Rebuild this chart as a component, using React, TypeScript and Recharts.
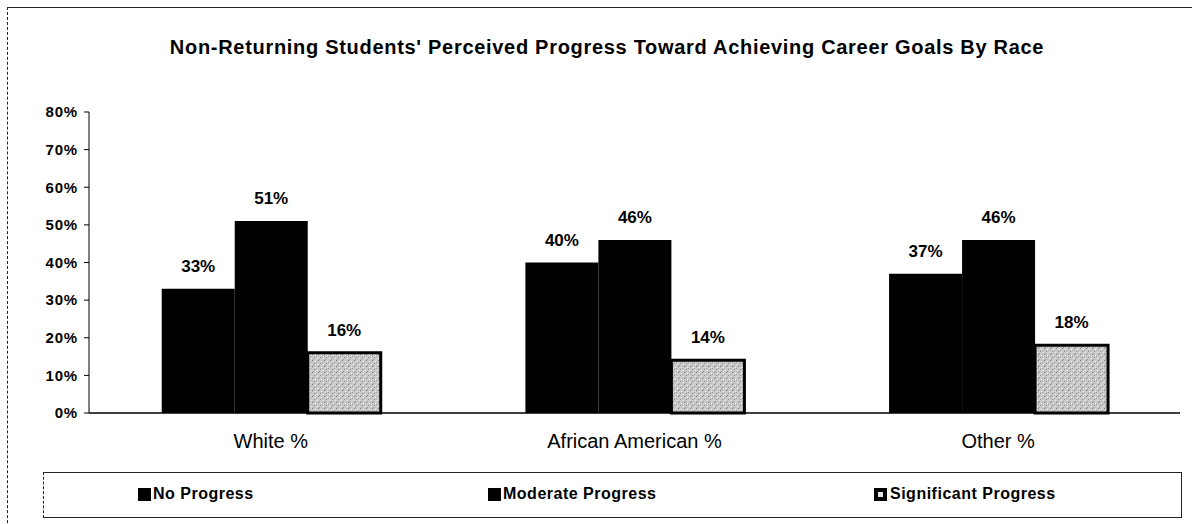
import React from "react";
import { BarChart, Bar, XAxis, YAxis, LabelList } from "recharts";

// values
const categories = ["White %", "African American %", "Other %"];
const noProgress = [33, 40, 37];
const moderateProgress = [51, 46, 46];
const significantProgress = [16, 14, 18];
const yTicks = [0, 10, 20, 30, 40, 50, 60, 70, 80];

const seriesNames = ["No Progress", "Moderate Progress", "Significant Progress"];

const data = categories.map((name, i) => ({
  name,
  none: noProgress[i],
  moderate: moderateProgress[i],
  significant: significantProgress[i],
}));

const FONT = "'Liberation Sans', Arial, sans-serif";
const pct = (v: any) => `${v}%`;

const labelStyle = { fontFamily: FONT, fontSize: 17, fontWeight: 700, fill: "#000" };

// legend item offsets inside the box
const legendLeft = [94, 444, 830];

function LegendMarker({ index }: { index: number }) {
  if (index < 2) {
    return <span style={{ display: "inline-block", width: 13, height: 13, background: "#000", marginRight: 2 }} />;
  }
  return (
    <span
      style={{
        display: "inline-block",
        width: 5,
        height: 5,
        border: "4px solid #000",
        background: "#e6e6e6",
        marginRight: 3,
      }}
    />
  );
}

export default function App() {
  return (
    <div style={{ position: "absolute", left: 0, top: 0, width: 1192, height: 524, overflow: "hidden", background: "#fff" }}>
      {/* outer frame of the scanned page */}
      <div
        style={{
          position: "absolute",
          left: 7,
          top: 7,
          width: 1200,
          height: 540,
          borderTop: "1px solid #222",
          borderLeft: "1px dashed #222",
        }}
      />
      <div
        style={{
          position: "absolute",
          left: 0,
          top: 36,
          width: 1214,
          textAlign: "center",
          fontFamily: FONT,
          fontWeight: 700,
          fontSize: 20,
          letterSpacing: 0.7,
          color: "#000",
        }}
      >
        Non-Returning Students' Perceived Progress Toward Achieving Career Goals By Race
      </div>

      <div style={{ position: "absolute", left: 0, top: 0 }}>
        <BarChart
          width={1192}
          height={524}
          data={data}
          margin={{ top: 112, right: 12, bottom: 0, left: 0 }}
          barCategoryGap="20%"
          barGap={0}
        >
          <defs>
            <pattern id="stipple" width="6" height="6" patternUnits="userSpaceOnUse">
              <rect width="6" height="6" fill="#c9c9c9" />
              <rect x="0" y="0" width="1" height="1" fill="#777" />
              <rect x="3" y="1" width="1" height="1" fill="#f2f2f2" />
              <rect x="2" y="3" width="1" height="1" fill="#888" />
              <rect x="5" y="4" width="1" height="1" fill="#eee" />
              <rect x="1" y="5" width="1" height="1" fill="#999" />
              <rect x="4" y="2" width="1" height="1" fill="#a0a0a0" />
            </pattern>
          </defs>
          <XAxis
            dataKey="name"
            height={111}
            tickLine={false}
            tickSize={0}
            tickMargin={21}
            axisLine={{ stroke: "#000", strokeWidth: 1.5 }}
            tick={{ fontFamily: FONT, fontSize: 20, fill: "#000" }}
          />
          <YAxis
            width={89}
            domain={[0, 80]}
            ticks={yTicks}
            interval={0}
            tickFormatter={pct}
            tickSize={5}
            tickMargin={6}
            axisLine={{ stroke: "#000", strokeWidth: 1 }}
            tickLine={{ stroke: "#000" }}
            tick={{ fontFamily: FONT, fontSize: 15, fontWeight: 700, fill: "#000", letterSpacing: 0.8 }}
          />
          <Bar dataKey="none" name={seriesNames[0]} fill="#000" isAnimationActive={false}>
            <LabelList dataKey="none" position="top" offset={17} formatter={pct} style={labelStyle} />
          </Bar>
          <Bar dataKey="moderate" name={seriesNames[1]} fill="#000" isAnimationActive={false}>
            <LabelList dataKey="moderate" position="top" offset={17} formatter={pct} style={labelStyle} />
          </Bar>
          <Bar
            dataKey="significant"
            name={seriesNames[2]}
            fill="url(#stipple)"
            stroke="#000"
            strokeWidth={3}
            isAnimationActive={false}
          >
            <LabelList dataKey="significant" position="top" offset={17} formatter={pct} style={labelStyle} />
          </Bar>
        </BarChart>
      </div>

      {/* legend box */}
      <div
        style={{
          position: "absolute",
          left: 43,
          top: 472,
          width: 1137,
          height: 44,
          borderTop: "1px solid #222",
          borderBottom: "1px solid #222",
          borderLeft: "1px dashed #222",
          borderRight: "1px solid #222",
          fontFamily: FONT,
          fontWeight: 700,
          fontSize: 16,
          letterSpacing: 0.5,
        }}
      >
        {seriesNames.map((s, i) => (
          <div
            key={s}
            style={{ position: "absolute", left: legendLeft[i], top: 12, display: "flex", alignItems: "center", whiteSpace: "nowrap" }}
          >
            <LegendMarker index={i} />
            {s}
          </div>
        ))}
      </div>
    </div>
  );
}
